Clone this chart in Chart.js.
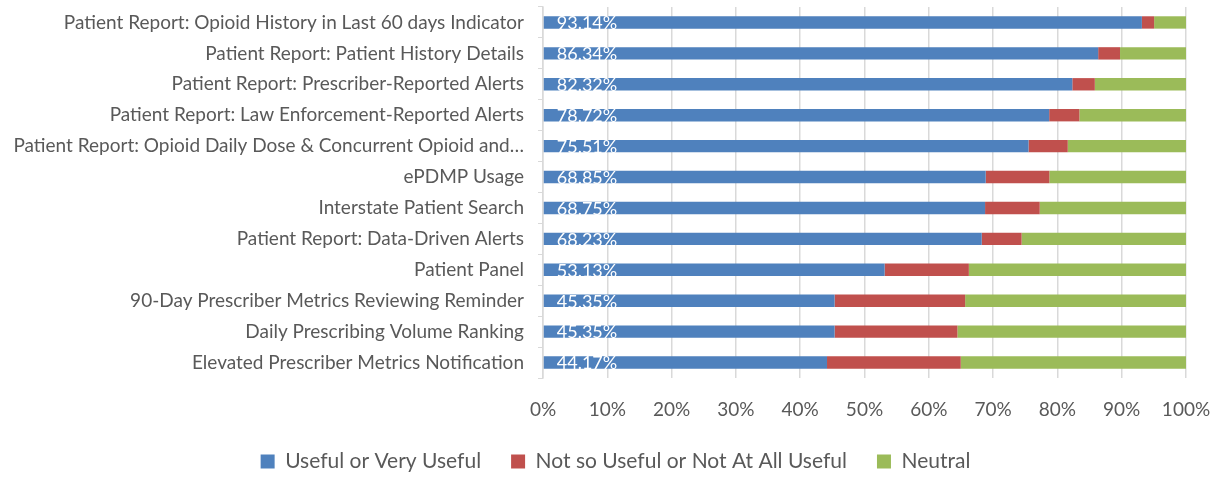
<!DOCTYPE html>
<html>
<head>
<meta charset="utf-8">
<script src="https://cdn.jsdelivr.net/npm/chart.js@4"></script>
<style>
  html, body { margin: 0; padding: 0; background: #fff; }
  #wrap { width: 1223px; height: 479px; }
</style>
</head>
<body>
<div id="wrap"><canvas id="barChart"></canvas></div>
<script>
var categories = [
  "Patient Report: Opioid History in Last 60 days Indicator",
  "Patient Report: Patient History Details",
  "Patient Report: Prescriber-Reported Alerts",
  "Patient Report: Law Enforcement-Reported Alerts",
  "Patient Report: Opioid Daily Dose & Concurrent Opioid and\u2026",
  "ePDMP Usage",
  "Interstate Patient Search",
  "Patient Report: Data-Driven Alerts",
  "Patient Panel",
  "90-Day Prescriber Metrics Reviewing Reminder",
  "Daily Prescribing Volume Ranking",
  "Elevated Prescriber Metrics Notification"
];
var useful = [93.14, 86.34, 82.32, 78.72, 75.51, 68.85, 68.75, 68.23, 53.13, 45.35, 45.35, 44.17];
var notUseful = [1.9, 3.4, 3.5, 4.7, 6.1, 9.9, 8.5, 6.2, 13.1, 20.3, 19.1, 20.8];
var neutral = [4.96, 10.26, 14.18, 16.58, 18.39, 21.25, 22.75, 25.57, 33.77, 34.35, 35.55, 35.03];
var seriesNames = ["Useful or Very Useful", "Not so Useful or Not At All Useful", "Neutral"];
var xTicks = [0, 10, 20, 30, 40, 50, 60, 70, 80, 90, 100];

var FONT = "Lato, 'Open Sans', sans-serif";
var GREY = "#595959";

// white value labels at the base of the blue bars
var baseLabels = {
  id: 'baseLabels',
  afterDatasetsDraw: function(chart) {
    var ctx = chart.ctx;
    var meta = chart.getDatasetMeta(0);
    ctx.save();
    ctx.fillStyle = "#ffffff";
    ctx.font = "18px " + FONT;
    ctx.textAlign = "left";
    ctx.textBaseline = "middle";
    meta.data.forEach(function(bar, i) {
      ctx.fillText(useful[i].toFixed(2) + "%", bar.base + 13, bar.y + 1);
    });
    ctx.restore();
  }
};

var ctxB = document.getElementById("barChart").getContext('2d');
var myBarChart = new Chart(ctxB, {
  type: 'bar',
  data: {
    labels: categories,
    datasets: [
      { label: seriesNames[0], data: useful, backgroundColor: '#4f81bd' },
      { label: seriesNames[1], data: notUseful, backgroundColor: '#c0504d' },
      { label: seriesNames[2], data: neutral, backgroundColor: '#9bbb59' }
    ]
  },
  options: {
    indexAxis: 'y',
    responsive: true,
    maintainAspectRatio: false,
    animation: false,
    categoryPercentage: 0.8,
    barPercentage: 0.5,
    layout: { padding: { left: 8, right: 0, top: 7, bottom: 0 } },
    plugins: {
      tooltip: { enabled: false },
      legend: {
        position: 'bottom',
        maxHeight: 58,
        labels: {
          boxWidth: 14,
          boxHeight: 14,
          padding: 30,
          color: GREY,
          font: { family: FONT, size: 21 }
        }
      }
    },
    scales: {
      x: {
        stacked: true,
        min: 0,
        max: 100,
        afterBuildTicks: function(axis) {
          axis.ticks = xTicks.map(function(v) { return { value: v }; });
        },
        afterFit: function(axis) {
          axis.height = 43;
          axis.paddingLeft = 0;
          axis.paddingRight = 37;
        },
        ticks: {
          color: GREY,
          padding: 20,
          font: { family: FONT, size: 19 },
          callback: function(v) { return v + "%"; }
        },
        grid: { color: '#d9d9d9', lineWidth: 1.5, drawTicks: false },
        border: { display: false }
      },
      y: {
        stacked: true,
        afterFit: function(axis) {
          axis.width = 535;
          axis.paddingTop = 0;
          axis.paddingBottom = 0;
        },
        ticks: {
          color: GREY,
          padding: 14,
          autoSkip: false,
          font: { family: FONT, size: 19 }
        },
        grid: { offset: true, drawOnChartArea: false, color: '#d9d9d9', tickLength: 5 },
        border: { color: '#d9d9d9', width: 1.5 }
      }
    }
  },
  plugins: [baseLabels]
});
</script>
</body>
</html>
